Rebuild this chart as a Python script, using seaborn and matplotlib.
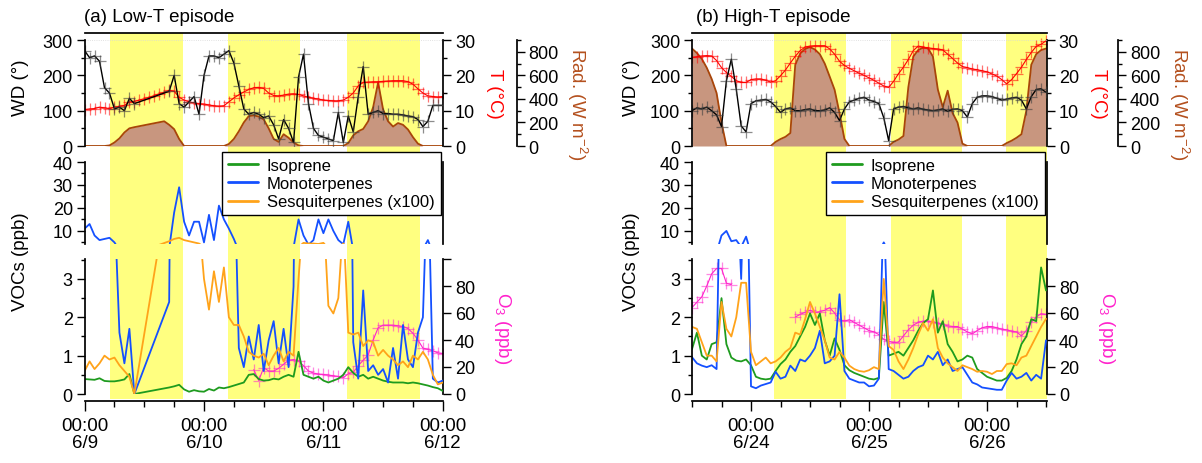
import numpy as np
import matplotlib
matplotlib.use("Agg")
import matplotlib.pyplot as plt
import seaborn as sns
from matplotlib.lines import Line2D

nan = np.nan
hours = np.arange(73)  # hourly, from 00:00 6/9 (a) and 12:00 6/23 (b)

# ---------------- panel (a) Low-T episode ----------------
wd_a = [270, 250, 255, 240, 165, 150, 105, 110, 100, 135, 120, nan, nan, nan, nan, nan, nan,
        155, 200, 120, 110, 125, 140, 90,
        200, 255, 255, 250, 260, 270, 235, 170, 105, 90, 95, 90, 80, 85, 60, 20, 75, 50, 10, 195,
        260, 120, 50, 30, 25, 20, 15, 95, 10, 85, 40, 140, 225, 90, 95, 100, 92, 92, 90, 90, 88,
        85, 83, 75, 55, 70, 115, 115, 115]
t_a = [10.3, 10.5, 10.6, 11, 10.8, 10.6, 11, 11.2, 11.5, 12.5,
       12.6, 13, 13.4, 13.8, 14.3, 14.8, 15.2, 15.8, 15.5, 13.8,
       13, 12.5, 12.2, 12, 11.9, 11.6, 11.4, 11.3, 11.4, 12.5,
       13.6, 14.5, 15.3, 16, 16.5, 16.6, 16.3, 15, 14.3, 14.2,
       14.4, 14.7, 14.8, 14.6, 14.2, 13.8, 13.5, 13.3, 13, 12.9,
       12.8, 12.8, 13, 13.8, 15, 17, 18, 18.1, 18.2, 18.2,
       18.3, 18.4, 18.5, 18.5, 18.5, 18.2, 17.5, 16.2, 15, 14.2,
       14, 13.9, 14]
rad_a = [0, 0, 0, 0, 0, 5, 30, 65, 115, 150, 160, nan, nan, nan, nan, nan, 210, 180, 143, 60, 0,
         0, 0, 0, 0, 0, 0, 0, 0, 17, 60, 125, 200, 254, 260, 250, 226, 150, 60, 35, 100, 70, 30, 5,
         0, 0, 0, 0, 0, 0, 0, 0, 0, 25, 90, 125, 145, 210, 330, 540, 310, 210, 165, 195, 180, 140,
         75, 20, 0, 0, 0, 0, 0]
iso_a = [0.39, 0.38, 0.37, 0.41, 0.34, 0.33, 0.33, 0.35, 0.38, 0.52, 0, nan, nan, nan, nan, nan, nan,
         0.17, 0.2, 0.24, 0.12, 0.06, 0.1, 0.07, 0.06, 0.13, 0.09, 0.17, 0.15, 0.18, 0.22, 0.26,
         0.3, 0.5, 0.52, 0.39, 0.35, 0.36, 0.4, 0.38, 0.45, 0.5, 0.45, 1.1, 0.5, 0.45, 0.4, 0.45,
         0.35, 0.3, 0.35, 0.4, 0.5, 0.7, 0.55, 0.45, 0.5, 0.4, 0.45, 0.4, 0.35, 0.32, 0.3, 0.3,
         0.3, 0.28, 0.3, 0.28, 0.25, 0.22, 0.18, 0.15, 0.08]
mono_a = [11, 13, 8, 6, 6.5, 7, 5, 1.6, 0.8, 1.7, 0, nan, nan, nan, nan, nan, nan,
          2.4, 18, 29, 14, 8, 14, 14, 5, 17, 6, 21, 15, 11, 6.5, 1.2, 0.7, 1.5, 0.9, 1.8, 0.6,
          1.4, 1.9, 0.8, 1.7, 0.7, 2.8, 15, 8, 4, 6, 15, 9, 15, 10, 6, 4.2, 14, 1.35, 0.4, 2.7,
          0.6, 0.75, 0.5, 0.65, 0.3, 1.2, 0.4, 1.8, 0.9, 0.7, 1.6, 2, 6, 0.4, 0.3, 0.35]
sesq_a = [0.6, 0.85, 0.65, 0.8, 1.0, 0.9, 0.95, 0.75, 0.6, 0.45, 0, nan, nan, nan, nan, nan, nan,
          5.5, 6.5, 7, 6, 5.5, 5, 4.5, 3, 2.2, 3.2, 2.4, 3.3, 2, 1.8, 1.8, 1.5, 1.1, 1.0, 0.95,
          1.05, 0.75, 1.0, 1.2, 0.85, 1.1, 1.0, 3, 4.8, 4.5, 4.5, 4.3, 4.8, 2.3, 2.1, 2.5, 4.5,
          1.6, 1.55, 1.6, 1.25, 1.4, 1.35, 1.0, 1.15, 1.0, 0.9, 0.75, 0.85, 0.7, 1.0, 0.9, 1.1,
          0.9, 0.5, 0.25, 0.3]
o3_a = [nan] * 34 + [18, 10, 19.5, 17, 17, 19, 22, 25, 25.5, 24.5, 21, 17, 15.5, 14.7, 14.5, 14,
                     13.5, 13, 12, 15, 16, 21, 25, 29, 40, 49, 51, 51, 51, 50.5, 50, 48.5, 45,
                     40, 34, 33, 32, 30.5, 30]
day_a = [(5.1, 19.7), (28.8, 43.3), (52.8, 67.4)]
xt_a = [0, 24, 48, 72]
xl_a = ["00:00\n6/9", "00:00\n6/10", "00:00\n6/11", "00:00\n6/12"]

# ---------------- panel (b) High-T episode ----------------
wd_b = [100, 108, 105, 110, 100, 88, 55, 185, 246, 161, 57, 40, 120, 128, 130, 132, 125, 112, 95,
        105, 108, 100, 100, 103, 105, 100, 100, 102, 108, 95, 72, 105, 125, 130, 135, 138, 130,
        126, 120, 80, 15, 105, 110, 112, 108, 105, 108, 104, 102, 100, 102, 105, 98, 104, 105,
        100, 82, 120, 138, 142, 142, 140, 135, 130, 133, 136, 138, 130, 105, 140, 160, 162, 152]
t_b = [25.1, 25.3, 25.5, 25.6, 25.5, 24.2, 22.2, 20.8, 19.7, 18.5,
       18, 18, 18.8, 19, 19, 18.6, 18.1, 18.5, 19.9, 21.5,
       23.5, 25.4, 27, 28, 28.3, 28.4, 28.4, 28.4, 27.5, 26,
       24, 22.8, 22, 21.3, 20.6, 20, 19.3, 18.6, 17.8, 17,
       16.6, 18.3, 20.5, 22.3, 24.5, 27, 28.3, 28, 27.8, 27.6,
       27.5, 27.2, 26, 24.8, 23.5, 22.5, 22.2, 21.8, 21.6, 21.3,
       21, 20.4, 19.8, 18.8, 17.6, 18.8, 20.5, 22.3, 24.5, 26.5,
       28.2, 28.8, 29.8]
rad_b = [828, 790, 740, 665, 570, 450, 200, 0, 0, 0, 0, 0, 0, 0, 0, 0, 0, 35, 59, 78,
         110, 690, 785, 825, 840, 820, 780, 700, 590, 478, 280, 60, 0, 0, 0, 0, 0, 0, 0, 0,
         0, 35, 55, 85, 500, 760, 815, 835, 830, 760, 480, 330, 470, 280, 199, 20, 0, 0, 0, 0,
         0, 0, 0, 0, 25, 45, 70, 100, 300, 690, 780, 815, 828]
iso_b = [1.17, 1.6, 1.0, 0.9, 1.3, 1.35, 2.5, 1.3, 0.95, 0.87,
         0.85, 0.9, 0.75, 0.45, 0.4, 0.38, 0.4, 0.6, 0.78, 0.9,
         1.1, 1.25, 1.5, 1.75, 2.1, 1.8, 2.1, 1.4, 1.0, 1.45,
         1.15, 0.75, 0.62, 0.55, 0.5, 0.45, 0.4, 0.38, 0.42, 2.4,
         1.0, 1.05, 1.1, 1.0, 1.2, 1.4, 1.65, 1.85, 1.95, 2.7,
         1.6, 1.9, 1.3, 1.1, 0.85, 0.9, 1.0, 0.95, 0.65, 0.55,
         0.45, 0.4, 0.35, 0.35, 0.42, 0.6, 0.9, 1.3, 1.5, 1.95,
         1.9, 3.3, 2.7]
mono_b = [0.96, 0.8, 0.74, 0.7, 0.75, 0.65, 8, 10, 5.5, 6,
          3.0, 7.5, 0.2, 0.15, 0.22, 0.26, 0.3, 0.58, 0.4, 0.45,
          0.74, 0.6, 0.9, 0.85, 1.0, 1.2, 1.65, 0.8, 0.85, 1.0,
          2.6, 0.6, 0.4, 0.35, 0.3, 0.3, 0.2, 0.22, 0.4, 5,
          0.65, 0.6, 0.5, 0.4, 0.45, 0.6, 0.7, 0.75, 1.0, 0.9,
          1.1, 0.75, 0.9, 0.6, 0.65, 0.7, 0.5, 0.3, 0.25, 0.17,
          0.15, 0.13, 0.11, 0.11, 0.35, 0.55, 0.4, 0.45, 0.55, 0.35,
          0.5, 0.4, 1.4]
sesq_b = [1.75, 1.7, 1.35, 1.0, 1.0, 0.85, 2.4, 1.7, 1.5, 2.0,
          2.9, 2.9, 1.1, 0.75, 0.85, 0.95, 0.8, 0.85, 0.95, 1.1,
          1.2, 1.6, 1.55, 1.95, 2.4, 2.1, 1.75, 1.4, 0.95, 0.9,
          1.1, 0.95, 0.74, 0.65, 0.6, 0.58, 0.62, 0.7, 0.65, 3.0,
          1.25, 1.15, 0.85, 0.65, 0.9, 1.2, 1.55, 1.85, 1.65, 1.95,
          1.2, 0.95, 0.8, 0.7, 0.6, 0.75, 0.7, 0.65, 0.58, 0.6,
          0.58, 0.52, 0.6, 0.6, 0.78, 0.8, 0.75, 0.95, 1.0, 1.25,
          1.5, 1.75, 1.96]
o3_b = [64, 68, 72, 80, 89, 93, 93, 82, 81] + [nan] * 12 + [
        57, 59, 60.5, 62, 60.5, 61, 62, 64, 60, 55, 54, 55, 53, 51, 49, 47, 46, 44, 40.5, 39,
        38, 38.5, 43, 47.5, 51, 53, 54, 54, 53.5, 52.5, 51.5, 50.5, 50, 50, 48, 46, 44.5, 47, 49,
        50, 50, 49, 48, 47.5, 46.5, 46, 43, 47, 53, 57, 59.5, 59]
day_b = [(16.7, 31.4), (40.4, 55.0), (63.9, 72.2)]
xt_b = [12, 36, 60]
xl_b = ["00:00\n6/24", "00:00\n6/25", "00:00\n6/26"]

voc_names = ["Isoprene", "Monoterpenes", "Sesquiterpenes (x100)"]

# ---------------- style ----------------
sns.set_theme(style="ticks", rc={"axes.edgecolor": "black", "xtick.color": "black",
                                 "ytick.color": "black", "text.color": "black",
                                 "axes.labelcolor": "black"})
plt.rcParams["font.family"] = ["Liberation Sans", "DejaVu Sans"]
plt.rcParams["mathtext.fontset"] = "custom"
plt.rcParams["mathtext.rm"] = "Liberation Sans"
plt.rcParams["mathtext.it"] = "Liberation Sans:italic"
plt.rcParams["mathtext.bf"] = "Liberation Sans:bold"
FS_Y = 13      # y tick labels
FS_X = 13.5    # x tick labels
FS_LAB = 13.5  # axis labels / title
FS_LEG = 12
plt.rcParams["font.size"] = FS_Y

C_GREEN, C_BLUE, C_ORANGE = "#1E9B1E", "#1450FF", "#FFA31A"
C_T, C_O3, C_RADF, C_RADL, C_RADTXT = "#FF0000", "#FF22CC", "#C8967F", "#A8450A", "#B4501E"
C_DAY = "#FFFF80"

W, H = 1202, 464
fig = plt.figure(figsize=(W / 100, H / 100), dpi=100)
PT = 72 / 100  # px -> pt


def rect(x0, x1, ytop, ybot):
    return [x0 / W, 1 - ybot / H, (x1 - x0) / W, (ybot - ytop) / H]


def runs(vals, connect=True):
    v = np.asarray(vals, dtype=float)
    m = ~np.isnan(v)
    if connect:
        return [(hours[m], v[m])]
    out, start = [], None
    for i in range(len(v) + 1):
        ok = i < len(v) and m[i]
        if ok and start is None:
            start = i
        elif not ok and start is not None:
            out.append((hours[start:i], v[start:i]))
            start = None
    return out


def line(ax, vals, color, lw=1.2, connect=True, **kw):
    for x, y in runs(vals, connect):
        sns.lineplot(x=x, y=y, ax=ax, color=color, lw=lw, legend=False,
                     estimator=None, sort=False, errorbar=None, **kw)


def tick_style(ax, axis="y"):
    ax.tick_params(axis=axis, which="major", direction="out", length=5.5, width=1.0,
                   labelsize=FS_Y, pad=3)
    ax.tick_params(axis=axis, which="minor", direction="out", length=3, width=1.0)


def panel(cfg):
    x0, x1, xmax = cfg["x0"], cfg["x1"], cfg["xmax"]
    # yellow day-time background
    bg = fig.add_axes(rect(x0, x1, 34, 400))
    bg.set_zorder(0)
    bg.set_xlim(0, xmax)
    bg.set_ylim(0, 1)
    for s, e in cfg["day"]:
        bg.axvspan(s, e, color=C_DAY, lw=0)
    bg.axis("off")

    # ---- top: WD, T, Rad ----
    ax_wd = fig.add_axes(rect(x0, x1, 34, 147))
    ax_t = ax_wd.twinx()
    ax_r = ax_wd.twinx()
    ax_r.set_zorder(1)
    ax_t.set_zorder(2)
    ax_wd.set_zorder(3)
    for a in (ax_wd, ax_t, ax_r):
        a.patch.set_visible(False)
        a.set_xlim(0, xmax)
    ax_wd.set_ylim(0, 320)
    ax_t.set_ylim(0, 32)
    ax_r.set_ylim(0, 960)

    (xr, yr), = runs(cfg["rad"])
    ax_r.fill_between(xr, 0, yr, color=C_RADF, lw=0)
    line(ax_r, cfg["rad"], C_RADL, lw=1.3)
    line(ax_t, cfg["t"], C_T, lw=0.8, marker="+", markersize=8,
         markeredgewidth=0.9, markeredgecolor=(1, 0, 0, 0.55))
    ax_wd.axhline(300, color="#d8d8d8", lw=0.6, ls=":", zorder=0)
    line(ax_wd, cfg["wd"], "black", lw=1.0, marker="+", markersize=9,
         markeredgewidth=0.9, markeredgecolor=(0.25, 0.25, 0.25, 0.6))

    ax_wd.set_yticks([0, 100, 200, 300])
    ax_wd.set_yticks([50, 150, 250], minor=True)
    ax_t.set_yticks([0, 10, 20, 30])
    ax_t.set_yticks([5, 15, 25], minor=True)
    ax_r.set_yticks([0, 200, 400, 600, 800])
    ax_r.set_yticks([100, 300, 500, 700, 900], minor=True)
    for a in (ax_wd, ax_t, ax_r):
        tick_style(a)
        a.tick_params(axis="x", bottom=False, labelbottom=False, top=False)
        for sp in a.spines.values():
            sp.set_visible(False)
        a.set_xlabel("")
        a.set_ylabel("")
    ax_wd.spines["left"].set_visible(True)
    ax_wd.spines["left"].set_bounds(0, 300)
    ax_wd.spines["top"].set_visible(True)
    ax_t.spines["right"].set_visible(True)
    ax_t.spines["right"].set_bounds(0, 30)
    ax_r.spines["right"].set_visible(True)
    ax_r.spines["right"].set_position(("outward", cfg["rad_off"] * PT))
    ax_r.spines["right"].set_bounds(0, 900)

    # ---- VOC upper segment ----
    ax_up = fig.add_axes(rect(x0, x1, 163, 245))
    ax_up.set_zorder(3)
    ax_up.patch.set_visible(False)
    ax_up.set_xlim(0, xmax)
    ax_up.set_ylim(4.3, 40)
    # ---- VOC lower segment ----
    ax_lo = fig.add_axes(rect(x0, x1, 260, 395))
    ax_o3 = ax_lo.twinx()
    ax_o3.set_zorder(2)
    ax_lo.set_zorder(3)
    ax_lo.patch.set_visible(False)
    ax_o3.patch.set_visible(False)
    ax_lo.set_xlim(0, xmax)
    ax_lo.set_ylim(0, 3.52)
    ax_o3.set_ylim(0, 100)

    line(ax_o3, cfg["o3"], C_O3, lw=0.8, connect=False, marker="+", markersize=8,
         markeredgewidth=0.9, markeredgecolor=(1, 0.15, 0.8, 0.55))
    for a in (ax_up, ax_lo):
        line(a, cfg["iso"], C_GREEN, lw=1.3)
        line(a, cfg["mono"], C_BLUE, lw=1.3)
        line(a, cfg["sesq"], C_ORANGE, lw=1.3)

    ax_up.set_yticks([10, 20, 30, 40])
    ax_up.set_yticks([5, 15, 25, 35], minor=True)
    ax_lo.set_yticks([0, 1, 2, 3])
    ax_lo.set_yticks([0.5, 1.5, 2.5, 3.5], minor=True)
    ax_o3.set_yticks([0, 20, 40, 60, 80, 100])
    ax_o3.set_yticklabels(["0", "20", "40", "60", "80", ""])
    for a in (ax_up, ax_lo, ax_o3):
        tick_style(a)
        for sp in a.spines.values():
            sp.set_visible(False)
        a.set_xlabel("")
        a.set_ylabel("")
    ax_up.spines["left"].set_visible(True)
    ax_up.spines["right"].set_visible(True)
    ax_up.tick_params(axis="x", bottom=False, labelbottom=False)
    ax_up.tick_params(axis="y", right=False)
    ax_lo.spines["left"].set_visible(True)
    ax_lo.spines["bottom"].set_visible(True)
    ax_lo.spines["bottom"].set_position(("outward", 7 * PT))
    ax_o3.spines["right"].set_visible(True)

    ax_lo.set_xticks(cfg["xt"])
    ax_lo.set_xticklabels(cfg["xl"], linespacing=1.0)
    ax_lo.set_xticks(np.arange(cfg["xt"][0] % 6, xmax + 0.01, 6), minor=True)
    ax_lo.tick_params(axis="x", which="major", direction="out", length=7.2, width=1.0,
                      labelsize=FS_X, pad=4.5)
    ax_lo.tick_params(axis="x", which="minor", direction="out", length=4.1, width=1.0)

    # legend
    handles = [Line2D([], [], color=c, lw=2) for c in (C_GREEN, C_BLUE, C_ORANGE)]
    leg = ax_up.legend(handles, voc_names, loc="upper left",
                       bbox_to_anchor=(cfg["leg_x"] / W, 1 - 153 / H),
                       bbox_transform=fig.transFigure, frameon=True, fancybox=False,
                       edgecolor="black", framealpha=1, borderpad=0.35, labelspacing=0.2,
                       handlelength=1.8, handletextpad=0.55, borderaxespad=0, fontsize=FS_LEG)
    leg.get_frame().set_linewidth(1.0)
    leg.set_zorder(10)

    # texts
    fig.text(cfg["title_x"] / W, 1 - 18 / H, cfg["title"], ha="left", va="center",
             fontsize=FS_LAB)
    fig.text(cfg["ylab_x"] / W, 1 - 88 / H, "WD (°)", rotation=90, ha="center", va="center",
             fontsize=FS_LAB)
    fig.text(cfg["ylab_x"] / W, 1 - 262 / H, "VOCs (ppb)", rotation=90, ha="center",
             va="center", fontsize=FS_LAB)
    fig.text(cfg["tlab_x"] / W, 1 - 94 / H, "T (°C)", rotation=-90, ha="center", va="center",
             fontsize=FS_LAB, color=C_T)
    fig.text(cfg["rlab_x"] / W, 1 - 104 / H, r"Rad. (W m$^{-2}$)", rotation=-90, ha="center",
             va="center", fontsize=FS_LAB, color=C_RADTXT)
    fig.text(cfg["olab_x"] / W, 1 - 328 / H, r"O$_3$ (ppb)", rotation=-90, ha="center",
             va="center", fontsize=FS_LAB, color=C_O3)


panel(dict(x0=84.6, x1=443.3, xmax=72.1, day=day_a, wd=wd_a, t=t_a, rad=rad_a, iso=iso_a,
           mono=mono_a, sesq=sesq_a, o3=o3_a, xt=xt_a, xl=xl_a, rad_off=73.3, leg_x=222,
           title="(a) Low-T episode", title_x=84, ylab_x=21, tlab_x=494, rlab_x=577,
           olab_x=502))
panel(dict(x0=692, x1=1047, xmax=72.2, day=day_b, wd=wd_b, t=t_b, rad=rad_b, iso=iso_b,
           mono=mono_b, sesq=sesq_b, o3=o3_b, xt=xt_b, xl=xl_b, rad_off=71, leg_x=826,
           title="(b) High-T episode", title_x=696, ylab_x=631, tlab_x=1099, rlab_x=1179,
           olab_x=1106))

fig.savefig("out.png", dpi=100)
